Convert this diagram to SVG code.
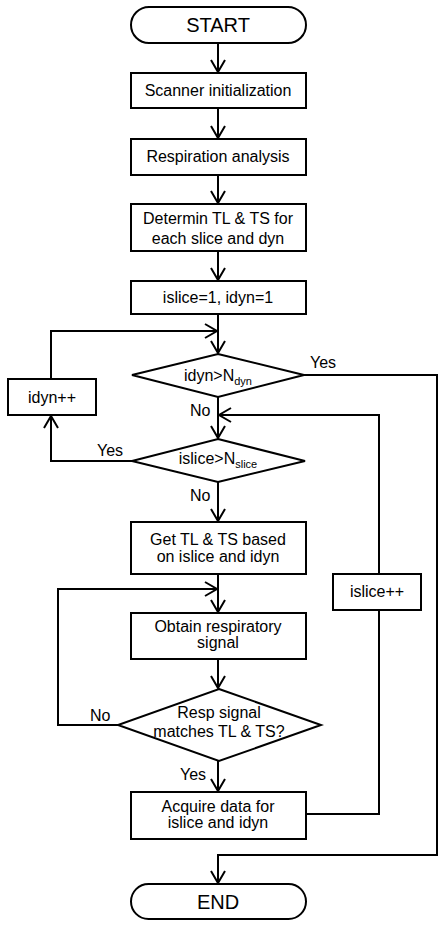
<svg xmlns="http://www.w3.org/2000/svg" width="446" height="927" viewBox="0 0 446 927">
<style>
.s{fill:#fff;stroke:#000;stroke-width:2}
.c{fill:none;stroke:#000;stroke-width:2}
text{font-family:"Liberation Sans",Arial,sans-serif;font-size:16px;fill:#000;text-anchor:middle}
.big{font-size:20px}
.sub{font-size:11px}
.l{text-anchor:start}
</style>
<defs>
<marker id="a" markerUnits="userSpaceOnUse" markerWidth="16" markerHeight="18" refX="13" refY="8" orient="auto" viewBox="0 0 16 16">
<path d="M1,1 L13,8 L1,15" fill="none" stroke="#000" stroke-width="2"/>
</marker>
</defs>
<g id="connectors">
<path class="c" d="M218,43 V72" marker-end="url(#a)"/>
<path class="c" d="M218,108 V138" marker-end="url(#a)"/>
<path class="c" d="M218,175 V203" marker-end="url(#a)"/>
<path class="c" d="M218,251 V280" marker-end="url(#a)"/>
<path class="c" d="M218,314 V353" marker-end="url(#a)"/>
<path class="c" d="M51,379 V331 H217" marker-end="url(#a)"/>
<path class="c" d="M218,397 V438" marker-end="url(#a)"/>
<path class="c" d="M132,461 H51 V416" marker-end="url(#a)"/>
<path class="c" d="M218,482 V521" marker-end="url(#a)"/>
<path class="c" d="M218,574 V612" marker-end="url(#a)"/>
<path class="c" d="M118,725 H58 V589 H217" marker-end="url(#a)"/>
<path class="c" d="M218,659 V688" marker-end="url(#a)"/>
<path class="c" d="M218,761 V791" marker-end="url(#a)"/>
<path class="c" d="M305,814 H379 V610"/>
<path class="c" d="M379,574 V415 H219" marker-end="url(#a)"/>
<path class="c" d="M304,375 H437 V855 H218 V883" marker-end="url(#a)"/>
<text class="l" x="310" y="368">Yes</text>
<text class="l" x="190" y="416">No</text>
<text class="l" x="97" y="456">Yes</text>
<text class="l" x="190" y="501">No</text>
<text class="l" x="90" y="721">No</text>
<text class="l" x="180" y="780">Yes</text>
</g>
<g id="start"><rect class="s" x="131" y="7" width="175" height="36" rx="18"/><text class="big" x="218" y="32">START</text></g>
<g id="scanner"><rect class="s" x="131" y="73" width="175" height="35"/><text x="218" y="96">Scanner initialization</text></g>
<g id="resp"><rect class="s" x="131" y="139" width="175" height="36"/><text x="218" y="162">Respiration analysis</text></g>
<g id="determin"><rect class="s" x="131" y="204" width="175" height="47"/><text x="218" y="224">Determin TL &amp; TS for</text><text x="218" y="244">each slice and dyn</text></g>
<g id="init"><rect class="s" x="131" y="281" width="175" height="33"/><text x="218" y="303">islice=1, idyn=1</text></g>
<g id="dyncheck"><path class="s" d="M218,354 L304,375 L218,397 L132,375 Z"/><text x="218" y="381">idyn&gt;N<tspan class="sub" dy="4">dyn</tspan></text></g>
<g id="idyninc"><rect class="s" x="8" y="379" width="88" height="36"/><text x="52" y="403">idyn++</text></g>
<g id="slicecheck"><path class="s" d="M218,439 L305,461 L218,482 L132,461 Z"/><text x="218" y="464">islice&gt;N<tspan class="sub" dy="4">slice</tspan></text></g>
<g id="gettl"><rect class="s" x="131" y="522" width="175" height="52"/><text x="218" y="545">Get TL &amp; TS based</text><text x="218" y="562">on islice and idyn</text></g>
<g id="sliceinc"><rect class="s" x="333" y="574" width="88" height="36"/><text x="377" y="597">islice++</text></g>
<g id="obtain"><rect class="s" x="131" y="613" width="175" height="46"/><text x="218" y="632">Obtain respiratory</text><text x="218" y="648">signal</text></g>
<g id="match"><path class="s" d="M219,689 L321,725 L219,761 L118,725 Z"/><text x="219" y="718">Resp signal</text><text x="219" y="737">matches TL &amp; TS?</text></g>
<g id="acquire"><rect class="s" x="131" y="792" width="175" height="47"/><text x="218" y="812">Acquire data for</text><text x="218" y="828">islice and idyn</text></g>
<g id="end"><rect class="s" x="131" y="884" width="175" height="35" rx="17.5"/><text class="big" x="218" y="909">END</text></g>
</svg>
